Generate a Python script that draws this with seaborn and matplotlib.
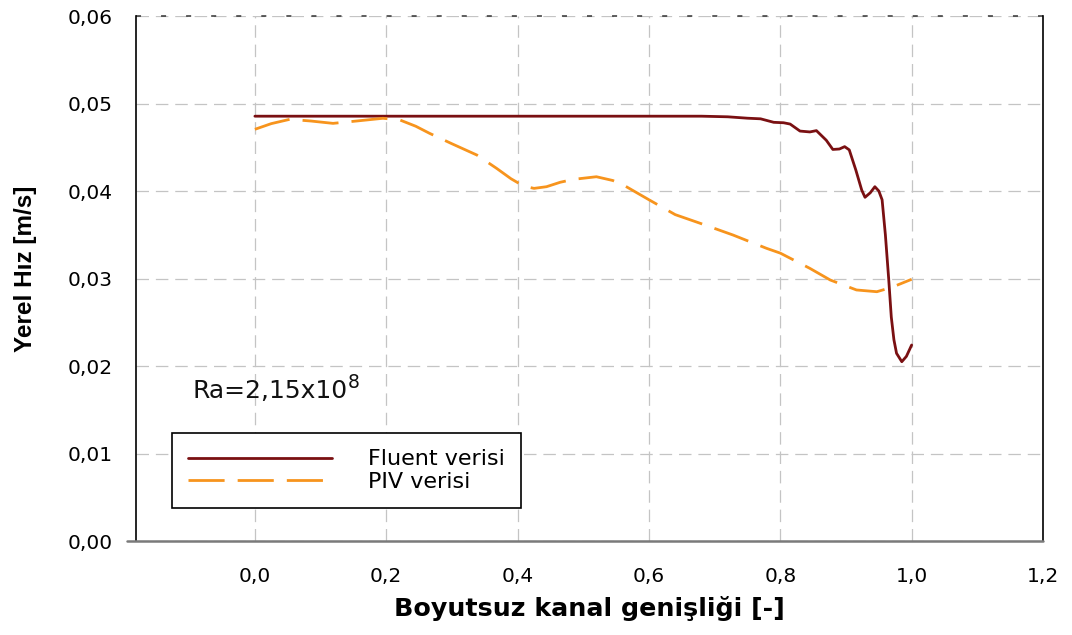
import matplotlib
matplotlib.use("Agg")
import matplotlib.pyplot as plt
import numpy as np
import pandas as pd
import seaborn as sns

# --- data -------------------------------------------------------------
fluent_x = [0.000, 0.100, 0.200, 0.300, 0.400, 0.500, 0.600, 0.680, 0.720,
            0.750, 0.770, 0.790, 0.805, 0.815, 0.830, 0.845, 0.855, 0.870,
            0.880, 0.890, 0.898, 0.905, 0.915, 0.924, 0.929, 0.937, 0.944,
            0.950, 0.955, 0.960, 0.965, 0.969, 0.973, 0.977, 0.985, 0.992,
            1.000]
fluent_y = [0.04855, 0.04855, 0.04855, 0.04855, 0.04855, 0.04855, 0.04855,
            0.04855, 0.04848, 0.04832, 0.04825, 0.04785, 0.04780, 0.04765,
            0.04685, 0.04675, 0.04690, 0.04580, 0.04475, 0.04480, 0.04507,
            0.04470, 0.04240, 0.04010, 0.03928, 0.03980, 0.04049, 0.04000,
            0.03900, 0.03500, 0.03000, 0.02560, 0.02300, 0.02145, 0.02049,
            0.02110, 0.02240]

piv_x = [0.000, 0.025, 0.053, 0.085, 0.119, 0.155, 0.195, 0.221, 0.245,
         0.266, 0.300, 0.338, 0.368, 0.390, 0.409, 0.425, 0.444, 0.465,
         0.485, 0.520, 0.545, 0.561, 0.600, 0.640, 0.678, 0.728, 0.779,
         0.800, 0.845, 0.876, 0.916, 0.947, 0.970, 1.000]
piv_y = [0.04705, 0.04770, 0.04819, 0.04800, 0.04773, 0.04800, 0.04831,
         0.04811, 0.04740, 0.04659, 0.04540, 0.04411, 0.04259, 0.04140,
         0.04057, 0.04030, 0.04049, 0.04100, 0.04133, 0.04163, 0.04120,
         0.04069, 0.03900, 0.03730, 0.03631, 0.03497, 0.03345, 0.03290,
         0.03116, 0.02983, 0.02869, 0.02849, 0.02900, 0.02991]

series_names = ["Fluent verisi", "PIV verisi"]

x_ticks = [0.0, 0.2, 0.4, 0.6, 0.8, 1.0, 1.2]
x_tick_labels = ["0,0", "0,2", "0,4", "0,6", "0,8", "1,0", "1,2"]
y_ticks = [0.00, 0.01, 0.02, 0.03, 0.04, 0.05, 0.06]
y_tick_labels = ["0,00", "0,01", "0,02", "0,03", "0,04", "0,05", "0,06"]

df = pd.concat([
    pd.DataFrame({"x": fluent_x, "y": fluent_y, "seri": series_names[0]}),
    pd.DataFrame({"x": piv_x, "y": piv_y, "seri": series_names[1]}),
], ignore_index=True)

# --- style --------------------------------------------------------------
sns.set_style("white")
plt.rcParams["font.family"] = ["DejaVu Sans"]
plt.rcParams["text.color"] = "black"
plt.rcParams["axes.labelcolor"] = "black"

fig = plt.figure(figsize=(10.72, 6.35), dpi=100)
ax = fig.add_axes([0.12687, 0.14803, 0.84608, 0.82677])

LW = 2.0
piv_dash = (13.0, 4.7)
palette = {series_names[0]: "#7A1012", series_names[1]: "#F7941D"}
dashes = {series_names[0]: "", series_names[1]: piv_dash}

sns.lineplot(data=df, x="x", y="y", hue="seri", style="seri",
             palette=palette, dashes=dashes, estimator=None, sort=False,
             linewidth=LW, ax=ax, zorder=3)

ax.set_xlim(-0.181, 1.2)
ax.set_ylim(0.0, 0.06)

ax.set_xticks(x_ticks, x_tick_labels)
ax.set_yticks(y_ticks, y_tick_labels)

ax.grid(True, color="#c4c4c4", linestyle=(0, (10, 5.5)), linewidth=0.9)
ax.set_axisbelow(True)

# top border drawn as a dark dashed rule
ax.axhline(0.06, color="#333333", linestyle=(0, (3.3, 13.1)),
           linewidth=1.1, zorder=2, clip_on=False)

for side in ("top", "bottom"):
    ax.spines[side].set_visible(False)
for side in ("left", "right"):
    ax.spines[side].set_color("black")
    ax.spines[side].set_linewidth(1.2)

# grey baseline reaching slightly past the left axis
ax.axhline(0.0, xmin=-0.0099, xmax=1.0, color="#7a7a7a", linewidth=1.8,
           clip_on=False, zorder=4)

ax.tick_params(axis="y", direction="inout", length=9, width=1.0,
               colors="black", pad=12, labelsize=14.5)
ax.tick_params(axis="x", direction="out", length=6, width=1.0,
               colors="#333333", pad=12.5, labelsize=14.5)
for lbl in ax.get_xticklabels() + ax.get_yticklabels():
    lbl.set_color("black")

ax.set_xlabel("Boyutsuz kanal genişliği [-]", fontsize=18.3, fontweight="bold")
ax.set_ylabel("Yerel Hız [m/s]", fontsize=17.5, fontweight="bold",
              family=["Liberation Sans", "DejaVu Sans"])
ax.xaxis.set_label_coords(0.5, -0.104)
ax.yaxis.set_label_coords(-0.109, 0.518)

# Rayleigh number annotation
ra = ax.text(-0.0944, 0.01634, "Ra=2,15x10", fontsize=18, va="baseline",
             ha="left", color="#111111")
ax.annotate("8", xy=(1, 1), xycoords=ra, xytext=(-0.5, 4.5),
            textcoords="offset points", fontsize=13.5, va="top", ha="left",
            color="#111111")

handles, labels = ax.get_legend_handles_labels()
leg = ax.legend(handles=handles, labels=labels, loc="lower left",
                bbox_to_anchor=(0.0397, 0.0629), borderaxespad=0,
                frameon=True, fancybox=False, edgecolor="black",
                framealpha=1, fontsize=16, handlelength=6.5,
                handletextpad=1.6, borderpad=0.72, labelspacing=0.12)
leg.get_frame().set_linewidth(1.2)
for line in leg.get_lines():
    line.set_linewidth(LW)
for txt in leg.get_texts():
    txt.set_color("black")

fig.savefig("out.png", dpi=100)
